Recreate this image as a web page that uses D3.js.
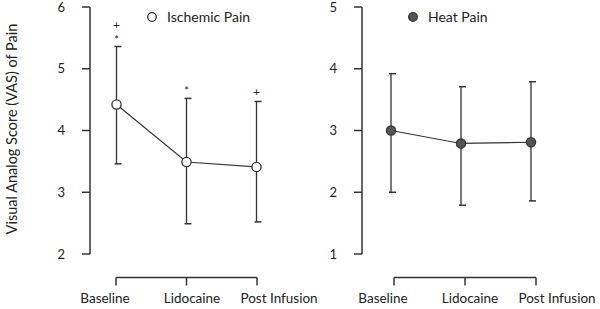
<!DOCTYPE html>
<html>
  <head>
    <meta charset="utf-8">
    <title>VAS Pain</title>
    <script src="https://d3js.org/d3.v7.min.js"></script>
    <style>
      body { margin: 0; background: #fff; }
      text { font-family: Lato, "Open Sans", sans-serif; fill: #222; }
    </style>
  </head>
  <body>
    <svg width="600" height="309"></svg>

    <script>
      // ====================================
      // Data
      // ====================================
      const categories = ["Baseline", "Lidocaine", "Post Infusion"];

      const ischemicMean  = [4.42, 3.49, 3.41];
      const ischemicUpper = [5.36, 4.52, 4.47];
      const ischemicLower = [3.46, 2.49, 2.52];
      const ischemicMarks = [["+", "*"], ["*"], ["+"]];

      const heatMean  = [3.00, 2.79, 2.81];
      const heatUpper = [3.92, 3.71, 3.79];
      const heatLower = [2.00, 1.79, 1.86];

      const ischemicTicks = [2, 3, 4, 5, 6];
      const heatTicks = [1, 2, 3, 4, 5];

      const ink = "#333";
      const svg = d3.select("svg");

      // one panel = y axis, bracket x axis, error bars, line, points, legend
      function panel(opt) {
        const y = d3.scaleLinear().domain(opt.yDomain).range([254, 7]);
        const x = d3.scalePoint().domain(categories).range(opt.pointRange);
        const xAxisScale = d3.scalePoint().domain(categories).range(opt.axisRange);
        const xLabel = d3.scalePoint().domain(categories).range(opt.labelRange);

        const g = svg.append("g");

        // y axis: ticks point left
        g.append("line")
          .attr("x1", opt.axisX).attr("x2", opt.axisX)
          .attr("y1", y(opt.yDomain[0])).attr("y2", y(opt.yDomain[1]))
          .attr("stroke", ink).attr("stroke-width", 1.5);
        g.selectAll(".ytick").data(opt.ticks).enter().append("line")
          .attr("x1", opt.axisX - 8).attr("x2", opt.axisX)
          .attr("y1", d => y(d)).attr("y2", d => y(d))
          .attr("stroke", ink).attr("stroke-width", 1.5);
        g.selectAll(".ylab").data(opt.ticks).enter().append("text")
          .attr("x", opt.axisX - 25).attr("y", d => y(d) + 4.5)
          .attr("text-anchor", "end")
          .attr("font-size", 13)
          .text(d => d);

        // x axis: a bracket with ticks pointing down
        const axisY = 277.5;
        g.append("line")
          .attr("x1", xAxisScale(categories[0])).attr("x2", xAxisScale(categories[2]))
          .attr("y1", axisY).attr("y2", axisY)
          .attr("stroke", ink).attr("stroke-width", 1.5);
        g.selectAll(".xtick").data(categories).enter().append("line")
          .attr("x1", d => xAxisScale(d)).attr("x2", d => xAxisScale(d))
          .attr("y1", axisY).attr("y2", axisY + 8)
          .attr("stroke", ink).attr("stroke-width", 1.5);
        g.selectAll(".xlab").data(categories).enter().append("text")
          .attr("x", d => xLabel(d)).attr("y", 303)
          .attr("text-anchor", "middle")
          .attr("font-size", 13.5)
          .text(d => d);

        const rows = categories.map((c, i) => ({
          c: c, m: opt.mean[i], hi: opt.upper[i], lo: opt.lower[i]
        }));

        // error bars with caps
        g.selectAll(".bar").data(rows).enter().append("line")
          .attr("x1", d => x(d.c)).attr("x2", d => x(d.c))
          .attr("y1", d => y(d.hi)).attr("y2", d => y(d.lo))
          .attr("stroke", ink).attr("stroke-width", 1.3);
        ["hi", "lo"].forEach(k => {
          g.selectAll(".cap-" + k).data(rows).enter().append("line")
            .attr("x1", d => x(d.c) - 2).attr("x2", d => x(d.c) + 5)
            .attr("y1", d => y(d[k])).attr("y2", d => y(d[k]))
            .attr("stroke", ink).attr("stroke-width", 1.5);
        });

        g.append("path")
          .datum(rows)
          .attr("fill", "none")
          .attr("stroke", ink)
          .attr("stroke-width", 1.2)
          .attr("d", d3.line().x(d => x(d.c)).y(d => y(d.m)));

        g.selectAll(".pt").data(rows).enter().append("circle")
          .attr("cx", d => x(d.c)).attr("cy", d => y(d.m))
          .attr("r", 4.6)
          .attr("fill", opt.fill)
          .attr("stroke", ink).attr("stroke-width", 1.3);

        // significance marks stacked above upper caps
        if (opt.marks) {
          rows.forEach((d, i) => {
            const marks = opt.marks[i];
            // centre of the top mark; each mark below is 12px lower
            const topCenter = y(d.hi) - 9 - (marks.length - 1) * 12;
            marks.forEach((m, j) => {
              g.append("text")
                .attr("x", x(d.c))
                .attr("y", topCenter + j * 12 + (m === "*" ? 6 : 3.4))
                .attr("text-anchor", "middle")
                .attr("font-size", m === "*" ? 11 : 12)
                .text(m);
            });
          });
        }

        // legend
        g.append("circle")
          .attr("cx", opt.legendX).attr("cy", 17).attr("r", 4.3)
          .attr("fill", opt.fill)
          .attr("stroke", ink).attr("stroke-width", 1.3);
        g.append("text")
          .attr("x", opt.legendX + 15).attr("y", 22)
          .attr("font-size", 14)
          .text(opt.name);
      }

      panel({
        name: "Ischemic Pain",
        yDomain: [2, 6], ticks: ischemicTicks, axisX: 90,
        pointRange: [116.5, 256.5], axisRange: [116, 257], labelRange: [105, 279],
        mean: ischemicMean, upper: ischemicUpper, lower: ischemicLower,
        marks: ischemicMarks, fill: "#fff", legendX: 152
      });

      panel({
        name: "Heat Pain",
        yDomain: [1, 5], ticks: heatTicks, axisX: 362,
        pointRange: [391, 531], axisRange: [394, 536], labelRange: [383, 557],
        mean: heatMean, upper: heatUpper, lower: heatLower,
        fill: "#555", legendX: 413
      });

      // shared y title
      svg.append("text")
        .attr("transform", "translate(17,129) rotate(-90)")
        .attr("text-anchor", "middle")
        .attr("font-size", 14.5)
        .text("Visual Analog Score (VAS) of Pain");
    </script>
  </body>
</html>
